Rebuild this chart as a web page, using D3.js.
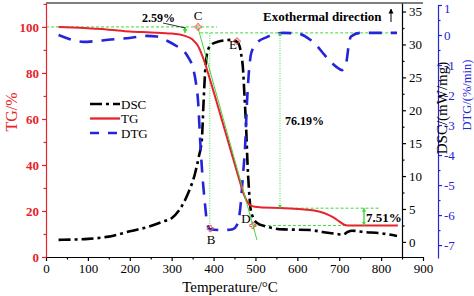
<!DOCTYPE html>
<html>
<head>
<meta charset="utf-8">
<script src="https://cdn.jsdelivr.net/npm/d3@7"></script>
<style>
  body { margin: 0; background: #fff; }
  svg { font-family: "Liberation Serif", "Times New Roman", serif; }
</style>
</head>
<body>
<svg id="chart"></svg>
<script>
const width = 474;
const height = 296;

// [temperature °C, value]
const tgData = [[30,100],[80,99.6],[150,98.8],[200,98],[250,97.6],[300,97.1],[330,96.2],[350,94.5],[362,92],
  [372,88],[380,84],[390,78],[400,72],[420,59.5],[440,47],[460,34.5],[475,26],[482,23.5],[490,22.2],
  [510,21.6],[560,21.3],[610,20.8],[640,20.2],[665,19],[685,17.3],[700,15.5],[712,14],[720,13.7],[840,13.7]];

const dscData = [[30,0.3],[60,0.35],[100,0.45],[150,0.8],[200,1.6],[250,2.4],[280,3.1],[300,3.6],[320,5],
  [340,7.5],[355,10.2],[365,13],[372,15.5],[376,21],[380,26],[386,29],[395,30],[410,30.4],[440,30.7],
  [458,30.3],[466,28.5],[470,26.5],[474,22],[478,17],[481,12],[484,8.5],[488,5.2],[495,3.6],[503,2.9],
  [527,2.3],[566,1.9],[630,1.8],[660,1.5],[694,1.2],[709,1.1],[720,1.5],[730,1.7],[760,1.5],[800,1.3],[838,0.9]];

const dtgData = [[30,0],[60,-0.15],[90,-0.23],[120,-0.2],[155,-0.15],[200,-0.1],[240,-0.03],[265,-0.05],
  [290,-0.2],[310,-0.35],[327,-0.5],[340,-0.75],[351,-1.1],[358,-1.6],[363,-2.2],[368,-3.5],[373,-4.6],
  [380,-5.7],[385,-6.3],[392,-6.47],[420,-6.5],[446,-6.47],[455,-6.35],[460,-6.15],[465,-5.6],[470,-4.7],
  [475,-3.8],[480,-2.2],[484,-1.3],[490,-0.6],[503,-0.27],[527,-0.07],[566,0.07],[600,0.05],[630,-0.15],
  [646,-0.35],[661,-0.6],[680,-0.9],[694,-1.07],[706,-1.17],[712,-1.1],[718,-0.83],[722,-0.4],[728,-0.05],
  [750,0.07],[838,0.07]];

const xTicks = [0,100,200,300,400,500,600,700,800,900];
const tgTicks = [0,20,40,60,80,100];
const dscTicks = [0,5,10,15,20,25,30,35];
const dtgTicks = [1,0,-1,-2,-3,-4,-5,-6,-7];

// mass-loss steps (%)
const steps = [2.59, 76.19, 7.51];

const red = "#e8232b", blue = "#2424d8", green = "#3fd83f";

const svg = d3.select("#chart")
  .attr("width", width)
  .attr("height", height);

const x = d3.scaleLinear().domain([0, 900]).range([46, 423]);
const yTG = d3.scaleLinear().domain([0, 110.4]).range([257, 3]);
const yDSC = d3.scaleLinear().domain([-2.3, 36.3]).range([257, 3]);
const yDTG = d3.scaleLinear().domain([-7.43, 1]).range([258, 5]);

const defs = svg.append("defs");
defs.append("marker")
  .attr("id", "ag").attr("viewBox", "0 0 10 10")
  .attr("refX", 9).attr("refY", 5)
  .attr("markerWidth", 4).attr("markerHeight", 4)
  .attr("markerUnits", "userSpaceOnUse")
  .attr("orient", "auto-start-reverse")
  .append("path").attr("d", "M0,0L10,5L0,10Z").attr("fill", green);
defs.append("marker")
  .attr("id", "ak").attr("viewBox", "0 0 10 10")
  .attr("refX", 9).attr("refY", 5)
  .attr("markerWidth", 5).attr("markerHeight", 6)
  .attr("markerUnits", "userSpaceOnUse")
  .attr("orient", "auto")
  .append("path").attr("d", "M0,0L10,5L0,10Z").attr("fill", "#000");

// top frame line
svg.append("line")
  .attr("x1", x(0)).attr("x2", x(900))
  .attr("y1", 3).attr("y2", 3)
  .attr("stroke", "#000").attr("stroke-width", 1.2);

// green helper lines
const level0 = 100, level1 = 100 - steps[0], level2 = level1 - steps[1], level3 = level2 - steps[2];
const dashes = [[0, 408, level0], [368, 833, level1], [560, 797, level2], [494, 800, level3]];
svg.append("g")
  .selectAll("line")
  .data(dashes)
  .join("line")
  .attr("x1", d => x(d[0])).attr("x2", d => x(d[1]))
  .attr("y1", d => yTG(d[2])).attr("y2", d => yTG(d[2]))
  .attr("stroke", green).attr("stroke-width", 1)
  .attr("stroke-dasharray", "3,2");

svg.append("line")
  .attr("x1", x(391)).attr("x2", x(391))
  .attr("y1", yTG(level1)).attr("y2", yDTG(-6.45))
  .attr("stroke", green).attr("stroke-width", 1)
  .attr("stroke-dasharray", "1,1.5");

// curves
const curve = d3.curveMonotoneX;
svg.append("path")
  .datum(dscData)
  .attr("d", d3.line().x(d => x(d[0])).y(d => yDSC(d[1])).curve(curve))
  .attr("fill", "none").attr("stroke", "#000").attr("stroke-width", 2.6)
  .attr("stroke-dasharray", "12,4,3,4");

svg.append("path")
  .datum(dtgData)
  .attr("d", d3.line().x(d => x(d[0])).y(d => yDTG(d[1])).curve(curve))
  .attr("fill", "none").attr("stroke", blue).attr("stroke-width", 2.6)
  .attr("stroke-dasharray", "13,9");

svg.append("path")
  .datum(tgData)
  .attr("d", d3.line().x(d => x(d[0])).y(d => yTG(d[1])).curve(curve))
  .attr("fill", "none").attr("stroke", red).attr("stroke-width", 2);

// tangent through C and D
svg.append("line")
  .attr("x1", x(362.8)).attr("y1", yTG(99.6))
  .attr("x2", x(503.7)).attr("y2", yTG(7.4))
  .attr("stroke", green).attr("stroke-width", 1);

// step arrows
const arrows = [[332, level0, level1, null], [558.6, level1, level2, "1,1.5"], [759, level2, level3, null]];
svg.append("g")
  .selectAll("line")
  .data(arrows)
  .join("line")
  .attr("x1", d => x(d[0])).attr("x2", d => x(d[0]))
  .attr("y1", d => yTG(d[1])).attr("y2", d => yTG(d[2]))
  .attr("stroke", green)
  .attr("stroke-width", d => d[3] ? 1 : 1.4)
  .attr("stroke-dasharray", d => d[3])
  .attr("marker-start", "url(#ag)")
  .attr("marker-end", "url(#ag)");

// leader for 2.59%
svg.append("line")
  .attr("x1", 163).attr("y1", 23).attr("x2", x(332)).attr("y2", yTG(level0) + 1)
  .attr("stroke", "#000").attr("stroke-width", 0.8);

// point markers
const points = [
  ["C", x(363), yTG(100), 0, -7],
  ["E", x(456), yDSC(30.5), -4, 8],
  ["B", x(392), yDTG(-6.45), 1, 15],
  ["D", x(494), yTG(level3), -7, -2]
];
const pg = svg.append("g");
pg.selectAll("path")
  .data(points)
  .join("path")
  .attr("d", d3.symbol().type(d3.symbolCross).size(22))
  .attr("transform", d => `translate(${d[1]},${d[2]})`)
  .attr("fill", "none").attr("stroke", "#e04a3a").attr("stroke-width", 0.8);
pg.selectAll("text")
  .data(points)
  .join("text")
  .attr("x", d => d[1] + d[3]).attr("y", d => d[2] + d[4])
  .attr("text-anchor", "middle")
  .attr("font-size", 13)
  .text(d => d[0]);

// labels
svg.append("text").attr("x", 142).attr("y", 22)
  .attr("font-size", 12).attr("font-weight", "bold")
  .text(steps[0].toFixed(2) + "%");
svg.append("text").attr("x", 285).attr("y", 125)
  .attr("font-size", 12).attr("font-weight", "bold")
  .text(steps[1].toFixed(2) + "%");
svg.append("text").attr("x", 366).attr("y", 222)
  .attr("font-size", 13).attr("font-weight", "bold")
  .text(steps[2].toFixed(2) + "%");

svg.append("text").attr("x", 263).attr("y", 21)
  .attr("font-size", 13).attr("font-weight", "bold")
  .text("Exothermal direction");
svg.append("line")
  .attr("x1", 391).attr("y1", 22).attr("x2", 391).attr("y2", 9)
  .attr("stroke", "#000").attr("stroke-width", 1)
  .attr("marker-end", "url(#ak)");

// legend
const legend = [["DSC", "#000", "12,4,3,4"], ["TG", red, null], ["DTG", blue, "9,9"]];
const lg = svg.append("g");
legend.forEach((d, i) => {
  const ly = 104 + i * 14.5;
  lg.append("line")
    .attr("x1", 90).attr("x2", 120).attr("y1", ly).attr("y2", ly)
    .attr("stroke", d[1]).attr("stroke-width", 2.3)
    .attr("stroke-dasharray", d[2]);
  lg.append("text")
    .attr("x", 121).attr("y", ly + 4.5)
    .attr("font-size", 13)
    .text(d[0]);
});

// axes
function styleAxis(g, color, bold) {
  g.select(".domain").attr("stroke", color).attr("stroke-width", 1.2);
  g.selectAll(".tick line").attr("stroke", color).attr("stroke-width", 1.2);
  g.selectAll(".tick text")
    .attr("fill", color)
    .attr("font-family", "Liberation Serif, serif")
    .attr("font-size", 13)
    .attr("font-weight", bold ? "bold" : "normal");
}

const gx = svg.append("g").attr("transform", "translate(0,257)")
  .call(d3.axisBottom(x).tickValues(xTicks).tickSize(4).tickSizeOuter(0).tickPadding(3));
styleAxis(gx, "#000", false);
svg.append("g").attr("transform", "translate(0,257)")
  .call(d3.axisBottom(x).tickValues(xTicks.slice(0, -1).map(v => v + 50)).tickSize(2.5).tickFormat(""))
  .call(g => g.select(".domain").remove())
  .call(g => g.selectAll("line").attr("stroke", "#000").attr("stroke-width", 1.2));

const gl = svg.append("g").attr("transform", "translate(46,0)")
  .call(d3.axisLeft(yTG).tickValues(tgTicks).tickSize(4).tickSizeOuter(0).tickPadding(3));
styleAxis(gl, red, true);
svg.append("g").attr("transform", "translate(46,0)")
  .call(d3.axisLeft(yTG).tickValues(tgTicks.map(v => v + 10)).tickSize(2.5).tickFormat(""))
  .call(g => g.select(".domain").remove())
  .call(g => g.selectAll("line").attr("stroke", red).attr("stroke-width", 1.2));

const gd = svg.append("g").attr("transform", "translate(402,0)")
  .call(d3.axisRight(yDSC).tickValues(dscTicks).tickSize(4).tickSizeOuter(0).tickPadding(3));
styleAxis(gd, "#000", false);
svg.append("g").attr("transform", "translate(402,0)")
  .call(d3.axisRight(yDSC).tickValues(dscTicks.map(v => v + 2.5)).tickSize(2.5).tickFormat(""))
  .call(g => g.select(".domain").remove())
  .call(g => g.selectAll("line").attr("stroke", "#000").attr("stroke-width", 1.2));

const gt = svg.append("g").attr("transform", "translate(438,0)")
  .call(d3.axisRight(yDTG).tickValues(dtgTicks).tickSize(4).tickSizeOuter(0).tickPadding(2)
    .tickFormat(d => d < 0 ? "-" + Math.abs(d) : d));
styleAxis(gt, blue, false);
// the top label sits against the edge, nudge it down a little
gt.selectAll(".tick text").filter(d => d === 1).attr("dy", "0.6em");
svg.append("g").attr("transform", "translate(438,0)")
  .call(d3.axisRight(yDTG).tickValues(dtgTicks.slice(1).map(v => v + 0.5)).tickSize(2.5).tickFormat(""))
  .call(g => g.select(".domain").remove())
  .call(g => g.selectAll("line").attr("stroke", blue).attr("stroke-width", 1.2));

// axis titles
svg.append("text")
  .attr("x", 230).attr("y", 292)
  .attr("text-anchor", "middle").attr("font-size", 15)
  .text("Temperature/°C");
svg.append("text")
  .attr("transform", "translate(17,112) rotate(-90)")
  .attr("text-anchor", "middle").attr("font-size", 16).attr("fill", red)
  .text("TG/%");
svg.append("text")
  .attr("transform", "translate(447,108) rotate(-90)")
  .attr("text-anchor", "middle").attr("font-size", 15)
  .text("DSC/(mW/mg)");
svg.append("text")
  .attr("transform", "translate(471,95) rotate(-90)")
  .attr("text-anchor", "middle").attr("font-size", 12.5).attr("fill", blue)
  .text("DTG/(%/min)");
</script>
</body>
</html>
